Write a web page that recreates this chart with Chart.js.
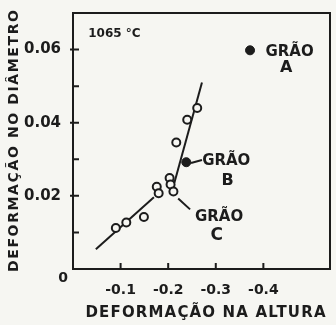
<!DOCTYPE html>
<html>
<head>
<meta charset="utf-8">
<script src="https://cdn.jsdelivr.net/npm/chart.js@4.4.1/dist/chart.umd.min.js"></script>
<style>
  html, body { margin: 0; padding: 0; background: #f6f6f2; }
  #wrap { width: 336px; height: 325px; }
</style>
</head>
<body>
<div id="wrap"><canvas id="chart"></canvas></div>
<script>
// measured points (open circles)
const openX = [-0.090, -0.112, -0.149, -0.176, -0.180, -0.203, -0.205, -0.211, -0.217, -0.240, -0.261];
const openY = [0.0112, 0.0127, 0.0142, 0.0225, 0.0207, 0.0249, 0.0231, 0.0212, 0.0346, 0.0408, 0.0440];

// grains A and B (filled)
const solidX = [-0.238, -0.372];
const solidY = [0.0292, 0.0598];

// fitted lines
const lowLineX = [-0.048, -0.170];
const lowLineY = [0.0054, 0.0196];
const highLineX = [-0.213, -0.271];
const highLineY = [0.0236, 0.0510];

// leader lines to the labels
const leaderBX = [-0.248, -0.271];
const leaderBY = [0.0290, 0.0298];
const leaderCX = [-0.221, -0.246];
const leaderCY = [0.0193, 0.0163];

// tick labels
const xTicks = [-0.1, -0.2, -0.3, -0.4];
const yTicks = [0.02, 0.04, 0.06];
const yMinorTicks = [0.01, 0.03, 0.05];

// annotations
const noteText = ["1065 °C", "GRÃO", "A", "GRÃO", "B", "GRÃO", "C"];
const noteX = [-0.087, -0.455, -0.448, -0.322, -0.325, -0.307, -0.302];
const noteY = [0.0644, 0.0594, 0.0550, 0.0296, 0.0240, 0.0142, 0.0092];
const noteSize = [12, 15, 16, 15, 16, 15, 17];

const xTitle = "DEFORMAÇÃO NA ALTURA";
const yTitle = "DEFORMAÇÃO NO DIÂMETRO";

const INK = "#1c1c1c";
const BG = "#f6f6f2";
const FONT = "'DejaVu Sans', sans-serif";

const pts = (xs, ys) => xs.map((x, i) => ({ x: x, y: ys[i] }));

// draw text stretched to a given width with letter spacing
function spacedText(ctx, text, width) {
  ctx.letterSpacing = "0px";
  const w = ctx.measureText(text).width;
  const sp = Math.max(0, (width - w) / (text.length - 1));
  ctx.letterSpacing = sp + "px";
  ctx.fillText(text, sp / 2, 0);
  ctx.letterSpacing = "0px";
}

const decorations = {
  id: "decorations",
  beforeDraw(chart) {
    const ctx = chart.ctx;
    ctx.save();
    ctx.fillStyle = BG;
    ctx.fillRect(0, 0, chart.width, chart.height);
    ctx.restore();
  },
  beforeDatasetsDraw(chart) {
    const { ctx, chartArea: a, scales } = chart;
    ctx.save();
    ctx.strokeStyle = INK;
    ctx.lineWidth = 2;
    ctx.strokeRect(a.left, a.top, a.right - a.left, a.bottom - a.top);
    ctx.beginPath();
    xTicks.forEach(v => {
      const px = scales.x.getPixelForValue(v);
      ctx.moveTo(px, a.bottom);
      ctx.lineTo(px, a.bottom - 6);
    });
    yTicks.forEach(v => {
      const py = scales.y.getPixelForValue(v);
      ctx.moveTo(a.left - 3, py);
      ctx.lineTo(a.left + 6, py);
    });
    yMinorTicks.forEach(v => {
      const py = scales.y.getPixelForValue(v);
      ctx.moveTo(a.left, py);
      ctx.lineTo(a.left + 6, py);
    });
    ctx.stroke();
    ctx.restore();
  },
  afterDraw(chart) {
    const { ctx, chartArea: a, scales } = chart;
    ctx.save();
    ctx.fillStyle = INK;
    ctx.textAlign = "center";
    ctx.textBaseline = "middle";
    noteText.forEach((t, i) => {
      ctx.font = "bold " + noteSize[i] + "px " + FONT;
      ctx.fillText(t, scales.x.getPixelForValue(noteX[i]), scales.y.getPixelForValue(noteY[i]));
    });

    // origin label
    ctx.font = "bold 14px " + FONT;
    ctx.fillText("0", a.left - 10, a.bottom + 9);

    // axis titles
    ctx.font = "bold 15px " + FONT;
    ctx.save();
    ctx.translate((a.left + a.right) / 2 + 4, a.bottom + 44);
    spacedText(ctx, xTitle, 240);
    ctx.restore();

    ctx.save();
    ctx.translate(14, (a.top + a.bottom) / 2);
    ctx.rotate(-Math.PI / 2);
    ctx.font = "bold 14px " + FONT;
    spacedText(ctx, yTitle, 262);
    ctx.restore();
    ctx.restore();
  }
};

new Chart(document.getElementById("chart"), {
  type: "scatter",
  data: {
    datasets: [
      {
        data: pts(solidX, solidY),
        pointRadius: 4.5,
        pointBackgroundColor: INK,
        pointBorderColor: INK,
        pointBorderWidth: 1
      },
      {
        data: pts(openX, openY),
        pointRadius: 4,
        pointBackgroundColor: BG,
        pointBorderColor: INK,
        pointBorderWidth: 2
      },
      { data: pts(lowLineX, lowLineY), showLine: true, pointRadius: 0, borderColor: INK, borderWidth: 2 },
      { data: pts(highLineX, highLineY), showLine: true, pointRadius: 0, borderColor: INK, borderWidth: 2 },
      { data: pts(leaderBX, leaderBY), showLine: true, pointRadius: 0, borderColor: INK, borderWidth: 2 },
      { data: pts(leaderCX, leaderCY), showLine: true, pointRadius: 0, borderColor: INK, borderWidth: 2 }
    ]
  },
  options: {
    responsive: true,
    maintainAspectRatio: false,
    animation: false,
    layout: { padding: { left: 0, top: 8, right: 2, bottom: 0 } },
    plugins: {
      legend: { display: false },
      tooltip: { enabled: false }
    },
    scales: {
      x: {
        type: "linear",
        min: -0.54,
        max: 0,
        reverse: true,
        grid: { display: false },
        border: { display: false },
        afterBuildTicks: (s) => { s.ticks = xTicks.map(value => ({ value })); },
        afterFit: (s) => { s.height = 56; },
        ticks: {
          color: INK,
          padding: 5,
          font: { family: FONT, size: 14, weight: "bold" },
          callback: (v) => Number(v).toFixed(1)
        }
      },
      y: {
        type: "linear",
        min: 0,
        max: 0.07,
        grid: { display: false },
        border: { display: false },
        afterBuildTicks: (s) => { s.ticks = yTicks.map(value => ({ value })); },
        afterFit: (s) => { s.width = 73; },
        ticks: {
          color: INK,
          padding: 4,
          font: { family: FONT, size: 15, weight: "bold" },
          callback: (v) => Number(v).toFixed(2)
        }
      }
    }
  },
  plugins: [decorations]
});
</script>
</body>
</html>
